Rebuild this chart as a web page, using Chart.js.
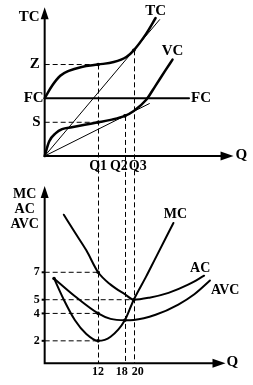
<!DOCTYPE html>
<html>
<head>
<meta charset="utf-8">
<script src="https://cdn.jsdelivr.net/npm/chart.js@4.4.1/dist/chart.umd.min.js"></script>
<style>
  html, body { margin: 0; padding: 0; background: #fff; }
  canvas { display: block; }
</style>
</head>
<body>
<canvas id="costChart" width="253" height="385"></canvas>
<script>
// quantity marks shared by both panels
const qMarks = [12, 18, 20];
const qTopLabels = ['Q1', 'Q2', 'Q3'];
const qBottomLabels = ['12', '18', '20'];

// top panel: TC, VC, FC
const fixedCost = 5.9;
const levelZ = 9.35;
const levelS = 3.45;
const tcQ = [0, 1.7, 3.5, 5.4, 8.3, 12, 15.5, 18.4, 20, 22.8, 24.9];
const tcValues = [5.9, 7.2, 8.2, 8.7, 9.1, 9.35, 9.6, 10.15, 10.8, 12.5, 14.1];
const vcQ = [0, 1.0, 2.5, 3.9, 6.1, 9.0, 12, 14.8, 18, 20, 22.8, 24.9, 27.1, 28.7];
const vcValues = [0, 1.5, 2.35, 2.75, 2.95, 3.2, 3.45, 3.7, 4.1, 4.6, 5.75, 7.2, 8.75, 9.85];
const fcQ = [0, 32.4];
const tcRayQ = [0, 25.8];
const tcRayValues = [0, 13.93];
const vcRayQ = [0, 23.5];
const vcRayValues = [0, 5.36];

// bottom panel: MC, AC, AVC
const costTicks = [7, 5, 4, 2];
const costTickQ = [12, 20, 12, 12];
const mcQ = [2.1, 4.3, 6.8, 9.35, 12, 14.8, 18, 20, 22.8, 24.6, 28.9];
const mcValues = [6.55, 5.0, 3.5, 2.5, 2.0, 2.3, 3.5, 5.0, 6.7, 7.85, 10.6];
const acQ = [4.3, 6.8, 9.35, 12, 14.8, 18, 20, 23.5, 27.8, 32.2, 35.8];
const acValues = [11.2, 9.9, 8.6, 7.0, 6.1, 5.4, 5.0, 5.15, 5.5, 6.1, 6.75];
const avcQ = [2.1, 6.8, 12, 14.8, 18, 20, 24.9, 30, 33.6, 37.1];
const avcValues = [6.55, 5.25, 4.0, 3.6, 3.5, 3.52, 3.9, 4.65, 5.4, 6.4];

// axis extents
const topAxisQ = 42.4, topAxisV = 15.2;
const botAxisQ = 40.6, botAxisV = 13.3, botBase = 0.36;

const pts = (xs, ys) => xs.map((x, i) => ({ x, y: ys[i] }));
const at = (xs, ys, q) => ys[xs.indexOf(q)];

const serif = '"Liberation Serif", "DejaVu Serif", serif';

function curve(data, yAxisID, width) {
    return {
        data, yAxisID,
        borderColor: '#000',
        borderWidth: width,
        pointRadius: 0,
        cubicInterpolationMode: 'monotone',
        borderCapStyle: 'round',
        borderJoinStyle: 'round',
        fill: false
    };
}
function guide(data, yAxisID) {
    return {
        data, yAxisID,
        borderColor: '#000',
        borderWidth: 1,
        borderDash: [5, 3],
        pointRadius: 0,
        tension: 0,
        fill: false
    };
}

const datasets = [
    // dashed guides
    guide([{ x: 0, y: levelZ }, { x: qMarks[0], y: levelZ }], 'yT'),
    guide([{ x: 0, y: levelS }, { x: qMarks[0], y: levelS }], 'yT'),
    ...costTicks.map((c, i) => guide([{ x: 0, y: c }, { x: costTickQ[i], y: c }], 'yB')),
    // rays from the origin
    { ...curve(pts(tcRayQ, tcRayValues), 'yT', 1), tension: 0 },
    { ...curve(pts(vcRayQ, vcRayValues), 'yT', 1), tension: 0 },
    // cost curves
    { ...curve(fcQ.map(q => ({ x: q, y: fixedCost })), 'yT', 2), tension: 0 },
    curve(pts(tcQ, tcValues), 'yT', 2.5),
    curve(pts(vcQ, vcValues), 'yT', 2.5),
    curve(pts(mcQ, mcValues), 'yB', 2),
    curve(pts(acQ, acValues), 'yB', 2),
    curve(pts(avcQ, avcValues), 'yB', 2),
    // marked points
    {
        type: 'scatter', yAxisID: 'yT', pointRadius: 1.8, pointBackgroundColor: '#000', borderWidth: 0,
        data: [
            { x: 12, y: at(tcQ, tcValues, 12) }, { x: 20, y: at(tcQ, tcValues, 20) },
            { x: 12, y: at(vcQ, vcValues, 12) }, { x: 18, y: at(vcQ, vcValues, 18) }
        ]
    },
    {
        type: 'scatter', yAxisID: 'yB', pointRadius: 1.8, pointBackgroundColor: '#000', borderWidth: 0,
        data: [
            { x: 12, y: at(acQ, acValues, 12) }, { x: 12, y: at(avcQ, avcValues, 12) },
            { x: 12, y: at(mcQ, mcValues, 12) }, { x: 18, y: at(mcQ, mcValues, 18) },
            { x: 20, y: at(mcQ, mcValues, 20) }, { x: mcQ[0], y: mcValues[0] }
        ]
    }
];

function arrow(ctx, x, y, dir) {
    // dir: 'up' or 'right', tip at (x, y)
    ctx.beginPath();
    if (dir === 'up') {
        ctx.moveTo(x, y);
        ctx.lineTo(x - 4, y + 12);
        ctx.lineTo(x + 4, y + 12);
    } else {
        ctx.moveTo(x, y);
        ctx.lineTo(x - 13, y - 4.5);
        ctx.lineTo(x - 13, y + 4.5);
    }
    ctx.closePath();
    ctx.fill();
}

function text(ctx, str, x, y, align, size) {
    ctx.font = 'bold ' + size + 'px ' + serif;
    ctx.textAlign = align;
    ctx.textBaseline = 'middle';
    ctx.fillText(str, x, y);
}

const diagram = {
    id: 'costDiagram',
    beforeDatasetsDraw(chart) {
        const { ctx, scales: { x, yT, yB } } = chart;
        const from = [at(tcQ, tcValues, 12), at(vcQ, vcValues, 18), at(tcQ, tcValues, 20)];
        ctx.save();
        ctx.strokeStyle = '#000';
        ctx.lineWidth = 1;
        ctx.setLineDash([5, 3]);
        qMarks.forEach((q, i) => {
            const px = Math.round(x.getPixelForValue(q)) + 0.5;
            ctx.beginPath();
            ctx.moveTo(px, yT.getPixelForValue(from[i]));
            ctx.lineTo(px, yB.getPixelForValue(botBase));
            ctx.stroke();
        });
        ctx.restore();
    },
    afterDatasetsDraw(chart) {
        const { ctx, scales: { x, yT, yB } } = chart;
        const x0 = x.getPixelForValue(0);
        ctx.save();
        ctx.fillStyle = '#000';
        ctx.strokeStyle = '#000';
        ctx.lineWidth = 2;

        // top axes
        const t0 = yT.getPixelForValue(0);
        const tTop = yT.getPixelForValue(topAxisV);
        const tRight = x.getPixelForValue(topAxisQ);
        ctx.beginPath();
        ctx.moveTo(x0, tTop + 10);
        ctx.lineTo(x0, t0);
        ctx.lineTo(tRight - 10, t0);
        ctx.stroke();
        arrow(ctx, x0, tTop, 'up');
        arrow(ctx, tRight, t0, 'right');

        // bottom axes
        const b0 = yB.getPixelForValue(botBase);
        const bTop = yB.getPixelForValue(botAxisV);
        const bRight = x.getPixelForValue(botAxisQ);
        ctx.beginPath();
        ctx.moveTo(x0, bTop + 10);
        ctx.lineTo(x0, b0);
        ctx.lineTo(bRight - 10, b0);
        ctx.stroke();
        arrow(ctx, x0, bTop, 'up');
        arrow(ctx, bRight, b0, 'right');

        // tick marks on the bottom cost axis
        costTicks.forEach(c => {
            const py = yB.getPixelForValue(c);
            ctx.beginPath();
            ctx.moveTo(x0 - 3, py);
            ctx.lineTo(x0, py);
            ctx.stroke();
        });

        // top panel text
        text(ctx, 'TC', x0 - 5, tTop + 10, 'right', 15);
        text(ctx, 'Z', x0 - 5, yT.getPixelForValue(levelZ), 'right', 15);
        text(ctx, 'FC', x0 - 1, yT.getPixelForValue(fixedCost), 'right', 15);
        text(ctx, 'S', x0 - 4, yT.getPixelForValue(levelS), 'right', 15);
        text(ctx, 'FC', x.getPixelForValue(fcQ[1]) + 2, yT.getPixelForValue(fixedCost), 'left', 15);
        text(ctx, 'Q', tRight + 2, t0 - 1, 'left', 15);
        const tcEnd = tcQ.length - 1, vcEnd = vcQ.length - 1;
        text(ctx, 'TC', x.getPixelForValue(tcQ[tcEnd]), yT.getPixelForValue(tcValues[tcEnd]) - 7, 'center', 15);
        text(ctx, 'VC', x.getPixelForValue(vcQ[vcEnd]), yT.getPixelForValue(vcValues[vcEnd]) - 8, 'center', 15);
        const qAlign = ['center', 'right', 'left'];
        const qShift = [0, 3, -5];
        qMarks.forEach((q, i) => {
            text(ctx, qTopLabels[i], x.getPixelForValue(q) + qShift[i], t0 + 10, qAlign[i], 14);
        });

        // bottom panel text
        text(ctx, 'MC', x0 - 20, bTop + 8, 'center', 14);
        text(ctx, 'AC', x0 - 20, bTop + 23, 'center', 14);
        text(ctx, 'AVC', x0 - 20, bTop + 38, 'center', 14);
        costTicks.forEach(c => text(ctx, String(c), x0 - 5, yB.getPixelForValue(c), 'right', 12));
        const bAlign = ['center', 'right', 'left'];
        const bShift = [0, 3, -2];
        qMarks.forEach((q, i) => {
            text(ctx, qBottomLabels[i], x.getPixelForValue(q) + bShift[i], b0 + 9, bAlign[i], 12);
        });
        text(ctx, 'Q', bRight + 1, b0 - 1, 'left', 15);
        const mcEnd = mcQ.length - 1, acEnd = acQ.length - 1, avcEnd = avcQ.length - 1;
        text(ctx, 'MC', x.getPixelForValue(mcQ[mcEnd]) + 2, yB.getPixelForValue(mcValues[mcEnd]) - 9, 'center', 14);
        text(ctx, 'AC', x.getPixelForValue(acQ[acEnd]) - 4, yB.getPixelForValue(acValues[acEnd]) - 7, 'center', 14);
        text(ctx, 'AVC', x.getPixelForValue(avcQ[avcEnd]) + 1, yB.getPixelForValue(avcValues[avcEnd]) + 10, 'left', 14);

        ctx.restore();
    }
};

new Chart(document.getElementById('costChart').getContext('2d'), {
    type: 'line',
    data: { datasets },
    options: {
        responsive: false,
        animation: false,
        events: [],
        layout: { padding: 0 },
        scales: {
            x: { type: 'linear', min: -9.13, max: 45.87, display: false },
            yT: { type: 'linear', min: -22.97, max: 15.53, display: false },
            yB: { type: 'linear', min: -0.93, max: 26.57, display: false }
        },
        plugins: {
            legend: { display: false },
            tooltip: { enabled: false }
        }
    },
    plugins: [diagram]
});
</script>
</body>
</html>
